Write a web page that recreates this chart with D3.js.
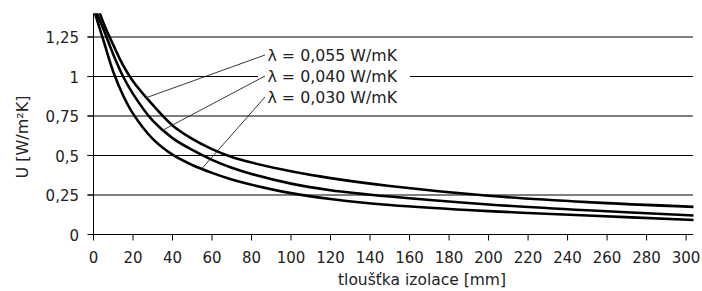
<!DOCTYPE html>
<html><head><meta charset="utf-8">
<script src="https://cdn.jsdelivr.net/npm/d3@7/dist/d3.min.js"></script>
<style>
html,body{margin:0;padding:0;background:#fff;}
svg{display:block;font-family:"DejaVu Sans",Verdana,sans-serif;}
</style></head>
<body><svg id="c" width="702" height="291"></svg>
<script>
// ---- data ----
const thickness = [0, 5, 10, 15, 20, 30, 40, 50, 60, 70, 80, 100, 120, 150, 200, 250, 304];
const u055 = [1.52, 1.34, 1.20, 1.07, 0.97, 0.82, 0.69, 0.605, 0.54, 0.49, 0.455, 0.40, 0.357, 0.307, 0.245, 0.205, 0.175];
const u040 = [1.45, 1.30, 1.14, 1.00, 0.89, 0.72, 0.61, 0.535, 0.472, 0.422, 0.383, 0.322, 0.28, 0.24, 0.19, 0.153, 0.12];
const u030 = [1.43, 1.23, 1.03, 0.88, 0.765, 0.605, 0.505, 0.44, 0.39, 0.348, 0.315, 0.262, 0.225, 0.187, 0.148, 0.12, 0.092];
const seriesLabels = ["λ = 0,055 W/mK", "λ = 0,040 W/mK", "λ = 0,030 W/mK"];
const leaderThickness = [26.9, 35.3, 54.8];
const xTickValues = d3.range(0, 301, 20);
const yTickValues = [0, 0.25, 0.5, 0.75, 1, 1.25];
const yTickLabels = ["0", "0,25", "0,5", "0,75", "1", "1,25"];
const xTitle = "tloušťka izolace [mm]";
const yTitle = "U [W/m²K]";

const series = [u055, u040, u030];

const svg = d3.select("#c");
const x = d3.scaleLinear().domain([0, 303.5]).range([93.5, 693]);
const y = d3.scaleLinear().domain([0, 1.4]).range([234.5, 13.3]);

// gridlines
svg.append("g").selectAll("line").data(yTickValues.filter(v => v > 0)).join("line")
  .attr("x1", 87.5).attr("x2", 693)
  .attr("y1", d => y(d)).attr("y2", d => y(d))
  .attr("stroke", "#000").attr("stroke-width", 1);

// clip
svg.append("clipPath").attr("id", "clip").append("rect")
  .attr("x", 93.5).attr("y", 13.3).attr("width", 600).attr("height", 222);

const line = d3.line().x((d, i) => x(thickness[i])).y(d => y(d)).curve(d3.curveCatmullRom.alpha(0.5));
svg.append("g").attr("clip-path", "url(#clip)").selectAll("path").data(series).join("path")
  .attr("d", line).attr("fill", "none").attr("stroke", "#000").attr("stroke-width", 2.6);

// x axis
const xAxis = d3.axisBottom(x).tickValues(xTickValues).tickSizeInner(6).tickSizeOuter(0).offset(0);
const gx = svg.append("g").attr("transform", "translate(0,234.5)").call(xAxis);
gx.select(".domain").attr("stroke", "#000");
gx.selectAll(".tick line").attr("stroke", "#000");
gx.selectAll(".tick text").attr("y", 28.5).attr("dy", 0).attr("fill", "#222")
  .style("font-size", "15px").style("font-family", "DejaVu Sans");

// y axis
const yAxis = d3.axisLeft(y).tickValues(yTickValues).tickFormat((d, i) => yTickLabels[i])
  .tickSizeInner(6).tickSizeOuter(0).offset(0);
const gy = svg.append("g").attr("transform", "translate(93.5,0)").call(yAxis);
gy.select(".domain").attr("stroke", "#000");
gy.selectAll(".tick line").attr("stroke", "#000");
gy.selectAll(".tick text").attr("x", -14.5).attr("dy", 0).attr("y", 6).attr("fill", "#222")
  .style("font-size", "15px").style("font-family", "DejaVu Sans");

// titles
svg.append("text").attr("x", 422).attr("y", 285).attr("text-anchor", "middle")
  .attr("fill", "#222").style("font-size", "15.5px").text(xTitle);
svg.append("text").attr("transform", "translate(27.5,137) rotate(-90)").attr("text-anchor", "middle")
  .attr("fill", "#222").style("font-size", "16px").text(yTitle);

// label block
svg.append("rect").attr("x", 258).attr("y", 45).attr("width", 152).attr("height", 62).attr("fill", "#fff");

function interp(arr, d) {
  for (let i = 0; i < thickness.length - 1; i++) {
    if (d >= thickness[i] && d <= thickness[i + 1]) {
      const t = (d - thickness[i]) / (thickness[i + 1] - thickness[i]);
      return arr[i] + t * (arr[i + 1] - arr[i]);
    }
  }
  return arr[arr.length - 1];
}
const labelBaselines = [60.5, 81.5, 102.5];
svg.append("g").selectAll("line").data(series).join("line")
  .attr("x1", 265).attr("y1", (d, i) => labelBaselines[i] - 5.5)
  .attr("x2", (d, i) => x(leaderThickness[i]))
  .attr("y2", (d, i) => y(interp(d, leaderThickness[i])))
  .attr("stroke", "#222").attr("stroke-width", 0.9);

svg.append("g").selectAll("text").data(seriesLabels).join("text")
  .attr("x", 267.5).attr("y", (d, i) => labelBaselines[i])
  .attr("fill", "#222").style("font-size", "15.8px").text(d => d);
</script></body></html>
